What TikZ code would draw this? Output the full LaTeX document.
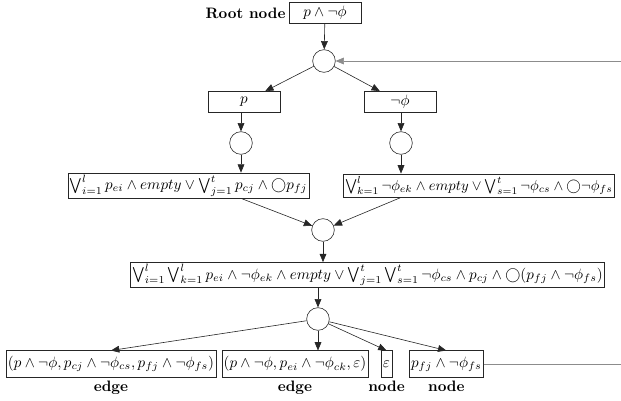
\documentclass[tikz,border=0pt]{standalone}
\usepackage{amsmath, amssymb}
\usepackage{xcolor}
\usepackage{tikz}
\usetikzlibrary{positioning, arrows.meta}

\begin{document}
\begin{tikzpicture}[x=0.662pt,y=-0.662pt,thin,draw=black!85,
       >={Triangle[length=5.5pt,width=4.5pt]},
       junc/.style={circle,draw,minimum size=15pt,inner sep=0pt},
       labbox/.style={draw,minimum width=47.5pt,minimum height=14pt,inner sep=1pt},
       formbox/.style={draw,minimum height=16pt,inner sep=1.2pt},
       tagtext/.style={font=\bfseries,inner sep=1pt}]
       \useasboundingbox (0,0) rectangle (621,401);

       \node[labbox] (root) at (325,13) {$p\wedge\neg\phi$};
       \node[tagtext] (rootlab) [left=1pt of root] {Root node};
       \node[junc] (c0) at (324,61) {};
       \coordinate (rim) at (621,61);

       \node[labbox] (pbox) at (244,102) {$p$};
       \node[labbox] (nbox) at (400,102) {$\neg\phi$};
       \node[junc] (cp) at (241,143) {};
       \node[junc] (cn) at (401,143) {};

       \node[formbox] (lf) at (188.5,185.5) {$\bigvee_{i=1}^{l} p_{ei}\wedge empty\vee\bigvee_{j=1}^{t} p_{cj}\wedge\bigcirc p_{fj}$};
       \node[formbox,anchor=west,scale=0.965] (rf) at (343,185.5) {$\bigvee_{k=1}^{l}\neg\phi_{ek}\wedge empty\vee\bigvee_{s=1}^{t}\neg\phi_{cs}\wedge\bigcirc\neg\phi_{fs}$};
       \node[junc] (cm) at (323,230) {};

       \node[formbox] (big) at (367.5,275) {$\bigvee_{i=1}^{l}\bigvee_{k=1}^{l} p_{ei}\wedge\neg\phi_{ek}\wedge empty\vee\bigvee_{j=1}^{t}\bigvee_{s=1}^{t}\neg\phi_{cs}\wedge p_{cj}\wedge\bigcirc(p_{fj}\wedge\neg\phi_{fs})$};
       \node[junc] (cb) at (318,319) {};

       \node[formbox,minimum height=17.5pt] (b1) at (111,364) {$(p\wedge\neg\phi, p_{cj}\wedge\neg\phi_{cs}, p_{fj}\wedge\neg\phi_{fs})$};
       \node[formbox,minimum height=17.5pt] (b2) at (295,364) {$(p\wedge\neg\phi, p_{ei}\wedge\neg\phi_{ck}, \varepsilon)$};
       \node[formbox,minimum height=17.5pt] (b3) at (386.5,364) {$\varepsilon$};
       \node[formbox,minimum height=17.5pt,anchor=west] (b4) at (409,364) {$p_{fj}\wedge\neg\phi_{fs}$};
       \node[tagtext] (t1) [below=1pt of b1] {edge};
       \node[tagtext] (t2) [below=1pt of b2] {edge};
       \node[tagtext] (t3) [below=1pt of b3] {node};
       \node[tagtext] (t4) [below=1pt of b4] {node};

       \path[->]
       (root) edge (c0)
       (c0) edge (pbox)
            edge (nbox)
       (cp |- pbox.south) edge (cp)
       (cn |- nbox.south) edge (cn)
       (cp) edge (cp |- lf.north)
       (cn) edge (cn |- rf.north)
       (lf.south -| cp) edge (cm)
       (rf.south -| cn) edge (cm)
       (cm) edge (cm |- big.north)
       (cb |- big.south) edge (cb)
       (cb) edge (b1.north)
            edge (cb |- b2.north)
            edge (b3.north)
            edge (b4.north)
       (rim) edge[draw=black!45] (c0);
       \draw[black!45] (b4.east) -- (b4.east -| rim);
\end{tikzpicture}
\end{document}
